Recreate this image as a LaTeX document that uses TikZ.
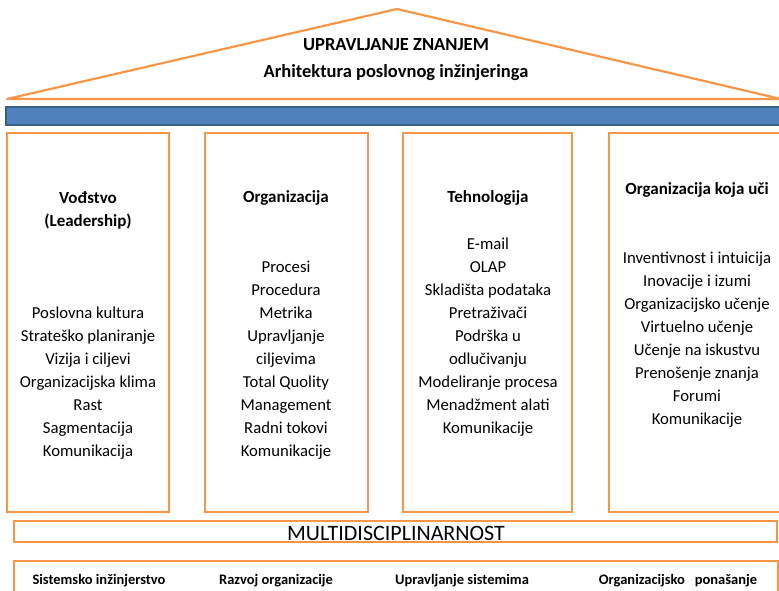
\documentclass[tikz,border=0pt]{standalone}
\usepackage{fontspec}
\setmainfont{Carlito}
\usepackage{tikz}
\usetikzlibrary{calc,positioning}
\usepackage{xcolor}
\definecolor{roofor}{HTML}{F79646}
\definecolor{beamblue}{HTML}{4F81BD}
\definecolor{beamedge}{HTML}{385D8A}

\begin{document}
\begin{tikzpicture}[x=1pt, y=-1pt,
  frame/.style={draw=roofor, line width=2.2pt},
  head/.style={font=\fontsize{17}{23}\selectfont\bfseries, align=center, inner sep=0pt},
  items/.style={font=\fontsize{16.7}{23}\selectfont, align=center, inner sep=0pt},
  base/.style={font=\fontsize{14.5}{16}\selectfont\bfseries, inner sep=0pt}]
  \useasboundingbox (0,0) rectangle (779,591);

  % Roof
  \coordinate (apex) at (397,9);
  \coordinate (eaveL) at (7,99);
  \coordinate (eaveR) at (781,99);
  \draw[frame, line join=round] (eaveL) -- (apex) -- (eaveR) -- cycle;
  \node[font=\fontsize{18.5}{27}\selectfont\bfseries, align=center, inner sep=0pt]
    (title) at (396,60) {UPRAVLJANJE ZNANJEM\\Arhitektura poslovnog inžinjeringa};

  % Beam
  \draw[fill=beamblue, draw=beamedge, line width=1.4pt] (6,107) rectangle (785,125);

  % Pillars
  \draw[frame] (7,133) rectangle (169,512);
  \draw[frame] (205,133) rectangle (368,512);
  \draw[frame] (403,133) rectangle (572,512);
  \draw[frame] (609,133) rectangle (790,512);

  % Pillar 1
  \node[head] (lead) at (88,210) {Vođstvo\\(Leadership)};
  \node[items] (leadlist) at (88,383) {Poslovna kultura\\Strateško planiranje\\Vizija i ciljevi\\Organizacijska klima\\Rast\\Sagmentacija\\Komunikacija};

  % Pillar 2
  \node[head] (org) at (286,198) {Organizacija};
  \node[items] (orglist) at (286,360) {Procesi\\Procedura\\Metrika\\Upravljanje\\ciljevima\\Total Quolity\\Management\\Radni tokovi\\Komunikacije};

  % Pillar 3
  \node[head] (tech) at (488,198) {Tehnologija};
  \node[items] (techlist) at (488,337) {E-mail\\OLAP\\Skladišta podataka\\Pretraživači\\Podrška u\\odlučivanju\\Modeliranje procesa\\Menadžment alati\\Komunikacije};

  % Pillar 4
  \node[head] (learn) at (697,190) {Organizacija koja uči};
  \node[items] (learnlist) at (697,340) {Inventivnost i intuicija\\Inovacije i izumi\\Organizacijsko učenje\\Virtuelno učenje\\Učenje na iskustvu\\Prenošenje znanja\\Forumi\\Komunikacije};

  % Foundation
  \draw[frame] (14,521) rectangle (777,542);
  \node[font=\fontsize{22}{24}\selectfont, inner sep=0pt] (multi) at (396,533) {MULTIDISCIPLINARNOST};
  \draw[frame] (14,561) rectangle (778,600);
  \node[base] (sys) at (99,581) {Sistemsko inžinjerstvo};
  \node[base] (razvoj) at (276,581) {Razvoj organizacije};
  \node[base] (uprav) at (462,581) {Upravljanje sistemima};
  \node[base] (ponas) at (678,581) {Organizacijsko\ \ \ ponašanje};
\end{tikzpicture}
\end{document}
